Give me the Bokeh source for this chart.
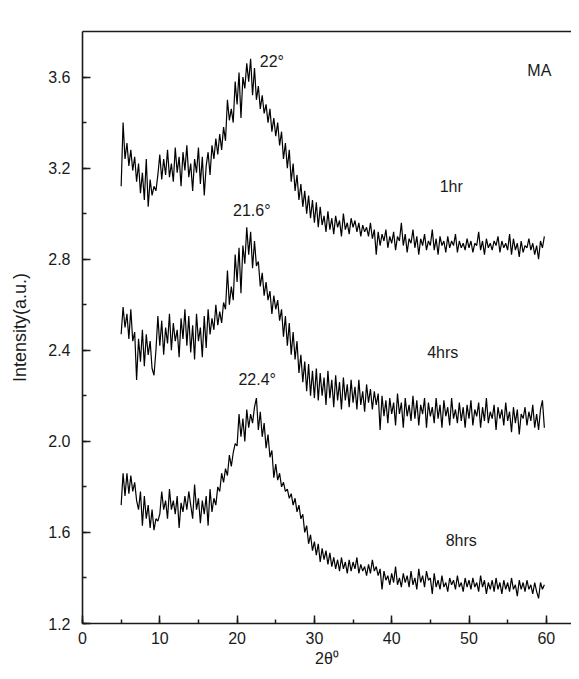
from bokeh.plotting import figure
from bokeh.models import ColumnDataSource, LinearAxis, SingleIntervalTicker, Range1d, NumeralTickFormatter
from bokeh.core.properties import value
from bokeh.embed import file_html
from bokeh.resources import INLINE

# ---- data ----
theta_start = 5.0
theta_step = 0.25

intensity_1hr = [
    3.12, 3.40, 3.24, 3.31, 3.21, 3.28, 3.19, 3.25, 3.14, 3.22, 3.09, 3.18, 3.06, 3.24, 3.03, 3.15, 3.08, 3.12, 3.10, 3.17,
    3.26, 3.15, 3.24, 3.17, 3.28, 3.16, 3.22, 3.14, 3.29, 3.18, 3.25, 3.12, 3.27, 3.19, 3.30, 3.16, 3.22, 3.10, 3.24, 3.18,
    3.29, 3.13, 3.25, 3.08, 3.21, 3.27, 3.17, 3.30, 3.24, 3.33, 3.26, 3.35, 3.28, 3.38, 3.32, 3.50, 3.41, 3.46, 3.40, 3.58,
    3.48, 3.62, 3.42, 3.60, 3.55, 3.66, 3.58, 3.68, 3.52, 3.64, 3.50, 3.56, 3.46, 3.52, 3.44, 3.48, 3.40, 3.46, 3.36, 3.42,
    3.34, 3.40, 3.30, 3.36, 3.24, 3.31, 3.20, 3.28, 3.14, 3.22, 3.10, 3.17, 3.06, 3.13, 3.03, 3.10, 3.00, 3.08, 2.98, 3.06,
    2.96, 3.05, 2.94, 3.03, 2.95, 2.99, 2.92, 3.01, 2.93, 2.98, 2.91, 2.99, 2.94, 2.97, 2.90, 3.00, 2.93, 2.96, 2.91, 2.98,
    2.94, 2.97, 2.92, 2.96, 2.90, 2.95, 2.92, 2.94, 2.90, 2.96, 2.89, 2.93, 2.82, 2.92, 2.86, 2.91, 2.88, 2.93, 2.85, 2.90,
    2.87, 2.92, 2.84, 2.90, 2.88, 2.96, 2.86, 2.91, 2.83, 2.89, 2.87, 2.93, 2.85, 2.90, 2.82, 2.89, 2.86, 2.91, 2.84, 2.88,
    2.86, 2.93, 2.84, 2.89, 2.82, 2.90, 2.86, 2.88, 2.83, 2.90, 2.85, 2.88, 2.86, 2.91, 2.83, 2.88, 2.85, 2.87, 2.84, 2.89,
    2.85, 2.88, 2.83, 2.87, 2.86, 2.92, 2.84, 2.88, 2.82, 2.89, 2.85, 2.87, 2.84, 2.88, 2.86, 2.90, 2.83, 2.88, 2.85, 2.87,
    2.84, 2.91, 2.82, 2.89, 2.84, 2.87, 2.81, 2.88, 2.83, 2.86, 2.85, 2.89, 2.84, 2.87, 2.82, 2.86, 2.80, 2.88, 2.85, 2.90,
]

intensity_4hrs = [
    2.47, 2.59, 2.50, 2.56, 2.45, 2.58, 2.44, 2.48, 2.27, 2.45, 2.35, 2.49, 2.33, 2.47, 2.38, 2.44, 2.32, 2.29, 2.40, 2.55,
    2.42, 2.53, 2.38, 2.50, 2.43, 2.56, 2.40, 2.52, 2.44, 2.49, 2.37, 2.54, 2.45, 2.58, 2.42, 2.55, 2.39, 2.51, 2.36, 2.56,
    2.44, 2.50, 2.37, 2.55, 2.41, 2.58, 2.47, 2.54, 2.49, 2.60, 2.51, 2.57, 2.52, 2.61, 2.58, 2.75, 2.60, 2.68, 2.62, 2.82,
    2.70, 2.85, 2.65, 2.86, 2.78, 2.94, 2.82, 2.92, 2.76, 2.88, 2.77, 2.79, 2.68, 2.74, 2.64, 2.70, 2.62, 2.66, 2.56, 2.64,
    2.58, 2.62, 2.53, 2.58, 2.46, 2.55, 2.42, 2.52, 2.38, 2.48, 2.36, 2.44, 2.30, 2.38, 2.26, 2.35, 2.22, 2.34, 2.20, 2.31,
    2.19, 2.32, 2.18, 2.30, 2.20, 2.28, 2.16, 2.31, 2.19, 2.27, 2.15, 2.29, 2.18, 2.26, 2.14, 2.28, 2.18, 2.25, 2.15, 2.27,
    2.17, 2.24, 2.14, 2.27, 2.16, 2.22, 2.13, 2.25, 2.17, 2.23, 2.14, 2.22, 2.16, 2.21, 2.05, 2.20, 2.11, 2.18, 2.08, 2.19,
    2.12, 2.17, 2.07, 2.21, 2.12, 2.17, 2.06, 2.19, 2.11, 2.16, 2.09, 2.20, 2.10, 2.18, 2.07, 2.16, 2.12, 2.19, 2.06, 2.17,
    2.11, 2.15, 2.08, 2.19, 2.10, 2.16, 2.06, 2.18, 2.11, 2.15, 2.07, 2.19, 2.10, 2.14, 2.08, 2.17, 2.09, 2.15, 2.06, 2.16,
    2.10, 2.18, 2.07, 2.14, 2.11, 2.17, 2.06, 2.15, 2.09, 2.19, 2.08, 2.13, 2.10, 2.16, 2.05, 2.15, 2.10, 2.14, 2.07, 2.17,
    2.09, 2.13, 2.04, 2.15, 2.08, 2.14, 2.03, 2.12, 2.10, 2.15, 2.07, 2.13, 2.09, 2.16, 2.06, 2.12, 2.05, 2.14, 2.18, 2.06,
]

intensity_8hrs = [
    1.72, 1.86, 1.76, 1.86, 1.77, 1.85, 1.78, 1.82, 1.74, 1.70, 1.78, 1.63, 1.76, 1.66, 1.72, 1.62, 1.70, 1.61, 1.66, 1.65,
    1.68, 1.78, 1.70, 1.74, 1.66, 1.79, 1.70, 1.74, 1.68, 1.76, 1.62, 1.73, 1.69, 1.76, 1.70, 1.78, 1.72, 1.66, 1.81, 1.70,
    1.75, 1.64, 1.74, 1.68, 1.76, 1.63, 1.79, 1.69, 1.75, 1.72, 1.80, 1.78, 1.86, 1.82, 1.88, 1.85, 1.94, 1.89, 1.95, 1.99,
    1.98, 2.12, 2.02, 2.10, 2.00, 2.14, 2.06, 2.12, 2.08, 2.15, 2.19, 2.05, 2.13, 2.02, 2.08, 1.97, 2.03, 1.93, 1.96, 1.84,
    1.90, 1.83, 1.86, 1.80, 1.82, 1.78, 1.79, 1.75, 1.77, 1.72, 1.75, 1.69, 1.72, 1.66, 1.68, 1.60, 1.63, 1.55, 1.59, 1.52,
    1.56, 1.50, 1.55, 1.47, 1.53, 1.48, 1.52, 1.46, 1.51, 1.45, 1.49, 1.44, 1.48, 1.43, 1.49, 1.44, 1.47, 1.42, 1.48, 1.43,
    1.47, 1.44, 1.49, 1.42, 1.46, 1.43, 1.45, 1.41, 1.46, 1.42, 1.48, 1.43, 1.45, 1.41, 1.44, 1.35, 1.43, 1.39, 1.41, 1.37,
    1.42, 1.38, 1.45, 1.37, 1.40, 1.36, 1.42, 1.38, 1.41, 1.36, 1.43, 1.37, 1.40, 1.35, 1.44, 1.38, 1.41, 1.36, 1.43, 1.39,
    1.40, 1.33, 1.42, 1.36, 1.39, 1.35, 1.41, 1.36, 1.38, 1.34, 1.40, 1.37, 1.39, 1.35, 1.41, 1.36, 1.38, 1.34, 1.40, 1.36,
    1.39, 1.35, 1.40, 1.36, 1.38, 1.34, 1.41, 1.36, 1.39, 1.33, 1.38, 1.35, 1.39, 1.34, 1.40, 1.35, 1.38, 1.33, 1.39, 1.35,
    1.38, 1.34, 1.40, 1.35, 1.37, 1.32, 1.39, 1.35, 1.38, 1.34, 1.39, 1.35, 1.37, 1.33, 1.38, 1.34, 1.31, 1.38, 1.35, 1.37,
]

two_theta = [theta_start + theta_step * i for i in range(len(intensity_1hr))]

label_texts = ["22°", "21.6°", "22.4°", "MA", "1hr", "4hrs", "8hrs"]
label_x = [24.5, 21.9, 22.6, 59.1, 47.7, 46.6, 49.0]
label_y = [3.67, 3.015, 2.27, 3.63, 3.12, 2.39, 1.565]

# ---- figure ----
FONT = "Liberation Sans"
INK = "#1a1a1a"

p = figure(width=571, height=671, x_range=Range1d(0, 63.26), y_range=Range1d(1.2, 3.8),
           output_backend="svg", toolbar_location=None,
           min_border_left=82, min_border_right=0, min_border_top=31, min_border_bottom=48,
           background_fill_color="white", border_fill_color="white")
p.outline_line_color = None
p.xgrid.visible = False
p.ygrid.visible = False

for series in (intensity_1hr, intensity_4hrs, intensity_8hrs):
    src = ColumnDataSource(dict(x=two_theta, y=series))
    p.line("x", "y", source=src, line_color="black", line_width=1.2)

lab_src = ColumnDataSource(dict(x=label_x, y=label_y, t=label_texts))
p.text("x", "y", text="t", source=lab_src, text_align="center", text_baseline="middle",
       text_font=value(FONT), text_font_size="16px", text_color=INK)

p.xaxis.ticker = SingleIntervalTicker(interval=10, num_minor_ticks=2)
p.yaxis.ticker = SingleIntervalTicker(interval=0.4, num_minor_ticks=2)
p.yaxis.formatter = NumeralTickFormatter(format="0.0")

for ax in (p.xaxis[0], p.yaxis[0]):
    ax.axis_line_width = 1.6
    ax.axis_line_color = INK
    ax.major_tick_in = 8
    ax.major_tick_out = 0
    ax.minor_tick_in = 4
    ax.minor_tick_out = 0
    ax.major_tick_line_width = 1.5
    ax.minor_tick_line_width = 1.5
    ax.major_tick_line_color = INK
    ax.minor_tick_line_color = INK
    ax.major_label_text_font = FONT
    ax.major_label_text_font_size = "16px"
    ax.major_label_text_color = INK
    ax.axis_label_text_font = FONT
    ax.axis_label_text_font_style = "normal"
    ax.axis_label_text_color = INK

p.xaxis.axis_label = "2θ⁰"
p.xaxis.axis_label_text_font_size = "16px"
p.xaxis.major_label_standoff = 8
p.xaxis.axis_label_standoff = 3
p.yaxis.axis_label = "Intensity(a.u.)"
p.yaxis.axis_label_text_font_size = "18px"
p.yaxis.major_label_standoff = 12
p.yaxis.axis_label_standoff = 15

top = LinearAxis(major_tick_line_color=None, minor_tick_line_color=None,
                 major_label_text_font_size="0px", major_label_text_color=None,
                 axis_line_width=1.6, axis_line_color=INK, major_label_standoff=0)
p.add_layout(top, "above")

open("out.html", "w").write(file_html(p, INLINE))
